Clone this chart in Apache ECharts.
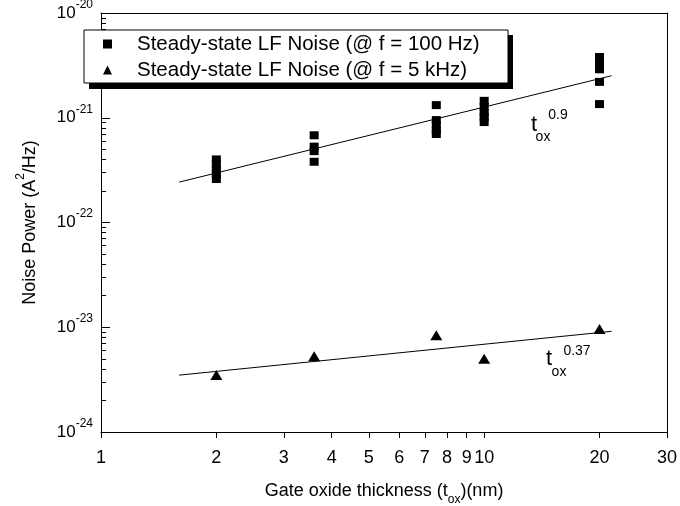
<!DOCTYPE html>
<html><head><meta charset="utf-8">
<script src="https://cdn.jsdelivr.net/npm/echarts@6/dist/echarts.min.js"></script>
<style>html,body{margin:0;padding:0;background:#fff}#c{width:680px;height:506px}</style>
</head><body><div id="c"></div>
<script>
// ---- data (A^2/Hz vs nm) ----
const seriesNames = ['Steady-state LF Noise (@ f = 100 Hz)', 'Steady-state LF Noise (@ f = 5 kHz)'];
const noise100Hz = [
  [2, 4.0e-22], [2, 3.6e-22], [2, 3.2e-22], [2, 2.9e-22], [2, 2.6e-22],
  [3.6, 6.8e-22], [3.6, 5.3e-22], [3.6, 4.8e-22], [3.6, 3.8e-22],
  [7.5, 1.32e-21], [7.5, 9.5e-22], [7.5, 8.5e-22], [7.5, 7.6e-22], [7.5, 7.0e-22],
  [10, 1.45e-21], [10, 1.27e-21], [10, 1.11e-21], [10, 1.02e-21], [10, 9.1e-22],
  [20, 3.8e-21], [20, 3.3e-21], [20, 2.9e-21], [20, 2.2e-21], [20, 1.35e-21]
];
const noise5kHz = [[2, 3.5e-24], [3.6, 5.3e-24], [7.5, 8.4e-24], [10, 5.0e-24], [20, 9.6e-24]];
const fit100Hz = [[1.6, 2.43e-22], [21.5, 2.52e-21]];
const fit5kHz = [[1.6, 3.49e-24], [21.5, 9.14e-24]];
const xTickValues = [1, 2, 3, 4, 5, 6, 7, 8, 9, 10, 20, 30];
const yDecades = [-24, -23, -22, -21, -20];
const yMinorMantissas = [2, 3, 4, 5, 6, 7, 8, 9];
const fitExponents = ['0.9', '0.37'];

// the log axis works in units of 1e-24 A^2/Hz (tiny raw numbers break the log scale)
const Y_UNIT_EXP = -24;
const Y_UNIT = Math.pow(10, Y_UNIT_EXP);
const toUnit = arr => arr.map(p => [p[0], p[1] / Y_UNIT]);
const yMin = Math.pow(10, yDecades[0] - Y_UNIT_EXP);
const yMax = Math.pow(10, yDecades[yDecades.length - 1] - Y_UNIT_EXP);
const yMinorTicks = [];
yDecades.slice(0, -1).forEach(e => yMinorMantissas.forEach(m => yMinorTicks.push(m * Math.pow(10, e - Y_UNIT_EXP))));

const FONT = 'Liberation Sans, Arial, Helvetica, sans-serif';
const chart = echarts.init(document.getElementById('c'));
const axisLine = {show: true, lineStyle: {color: '#000', width: 1}};
const xRange = {type: 'log', logBase: 10, min: xTickValues[0], max: xTickValues[xTickValues.length - 1]};
const yRange = {type: 'log', logBase: 10, min: yMin, max: yMax};

chart.setOption({
  animation: false,
  backgroundColor: '#fff',
  textStyle: {fontFamily: FONT},
  grid: {left: 101, right: 13, top: 13, bottom: 74, containLabel: false, outerBoundsMode: 'none'},
  xAxis: [
    Object.assign({}, xRange, {
      position: 'bottom', axisLine,
      splitLine: {show: false},
      axisTick: {show: true, inside: false, length: 6, customValues: xTickValues, lineStyle: {color: '#000'}},
      axisLabel: {show: true, customValues: xTickValues, color: '#000', fontSize: 18, margin: 17, fontFamily: FONT,
        formatter: v => String(Math.round(v))},
      name: '{n|Gate oxide thickness (t}{s|ox}{n|)(nm)}',
      nameLocation: 'middle', nameGap: 50,
      nameTextStyle: {color: '#000', fontFamily: FONT, rich: {
        n: {fontSize: 18, fontFamily: FONT, color: '#000', padding: [0, 0, 6, 0]},
        s: {fontSize: 12, fontFamily: FONT, color: '#000', verticalAlign: 'bottom'}
      }}
    }),
    Object.assign({}, xRange, {
      position: 'top', axisLine,
      splitLine: {show: false},
      axisTick: {show: false},
      axisLabel: {show: false}
    })
  ],
  yAxis: [
    Object.assign({}, yRange, {
      position: 'left', axisLine,
      splitLine: {show: false},
      axisTick: {show: true, inside: true, length: 9, lineStyle: {color: '#000'}},
      minorTick: {show: false},
      axisLabel: {show: true, margin: 8, fontFamily: FONT,
        formatter: v => '{b|10}{s|' + (Math.round(Math.log10(v)) + Y_UNIT_EXP) + '}',
        rich: {
          b: {fontSize: 17, fontFamily: FONT, color: '#000', padding: [6, 0, 6, 0]},
          s: {fontSize: 12, fontFamily: FONT, color: '#000', verticalAlign: 'top'}
        }},
      name: '{n|Noise Power (A}{s|2}{n|/Hz)}',
      nameLocation: 'middle', nameGap: 62,
      nameTextStyle: {color: '#000', fontFamily: FONT, rich: {
        n: {fontSize: 18, fontFamily: FONT, color: '#000', padding: [6, 0, 0, 0]},
        s: {fontSize: 12, fontFamily: FONT, color: '#000', verticalAlign: 'top'}
      }}
    }),
    Object.assign({}, yRange, {
      position: 'left', axisLine: {show: false},
      splitLine: {show: false},
      axisTick: {show: true, inside: true, length: 5, customValues: yMinorTicks, lineStyle: {color: '#000'}},
      axisLabel: {show: false}
    }),
    Object.assign({}, yRange, {
      position: 'right', axisLine,
      splitLine: {show: false},
      axisTick: {show: false},
      axisLabel: {show: false}
    })
  ],
  legend: {
    data: seriesNames,
    orient: 'vertical', left: 98, top: 28, padding: 5,
    itemWidth: 9, itemHeight: 9, itemGap: 4,
    textStyle: {fontSize: 20.5, fontFamily: FONT, color: '#000', padding: [0, 0, 0, 20], lineHeight: 22},
    itemStyle: {opacity: 1},
    z: 10
  },
  graphic: [
    {type: 'rect', z: 5, shape: {x: 89, y: 35, width: 424, height: 54}, style: {fill: '#000'}},
    {type: 'rect', z: 6, shape: {x: 84, y: 30, width: 424, height: 53}, style: {fill: '#fff', stroke: '#000', lineWidth: 1}},
    {type: 'text', z: 6, x: 534, y: 125, style: {text: 't', font: '22px ' + FONT, fill: '#000', align: 'center', verticalAlign: 'middle'}},
    {type: 'text', z: 6, x: 543, y: 137, style: {text: 'ox', font: '14px ' + FONT, fill: '#000', align: 'center', verticalAlign: 'middle'}},
    {type: 'text', z: 6, x: 558, y: 115, style: {text: fitExponents[0], font: '14px ' + FONT, fill: '#000', align: 'center', verticalAlign: 'middle'}},
    {type: 'text', z: 6, x: 549, y: 359, style: {text: 't', font: '22px ' + FONT, fill: '#000', align: 'center', verticalAlign: 'middle'}},
    {type: 'text', z: 6, x: 559, y: 372, style: {text: 'ox', font: '14px ' + FONT, fill: '#000', align: 'center', verticalAlign: 'middle'}},
    {type: 'text', z: 6, x: 577, y: 351, style: {text: fitExponents[1], font: '14px ' + FONT, fill: '#000', align: 'center', verticalAlign: 'middle'}}
  ],
  series: [
    {type: 'line', data: toUnit(fit100Hz), symbol: 'none', lineStyle: {color: '#000', width: 1}, silent: true, z: 2},
    {type: 'line', data: toUnit(fit5kHz), symbol: 'none', lineStyle: {color: '#000', width: 1}, silent: true, z: 2},
    {name: seriesNames[0], type: 'scatter', data: toUnit(noise100Hz), symbol: 'rect', symbolSize: [9, 8],
      itemStyle: {color: '#000', opacity: 1}, z: 3},
    {name: seriesNames[1], type: 'scatter', data: toUnit(noise5kHz), symbol: 'triangle', symbolSize: [12, 10],
      itemStyle: {color: '#000', opacity: 1}, z: 3}
  ]
});
</script></body></html>
